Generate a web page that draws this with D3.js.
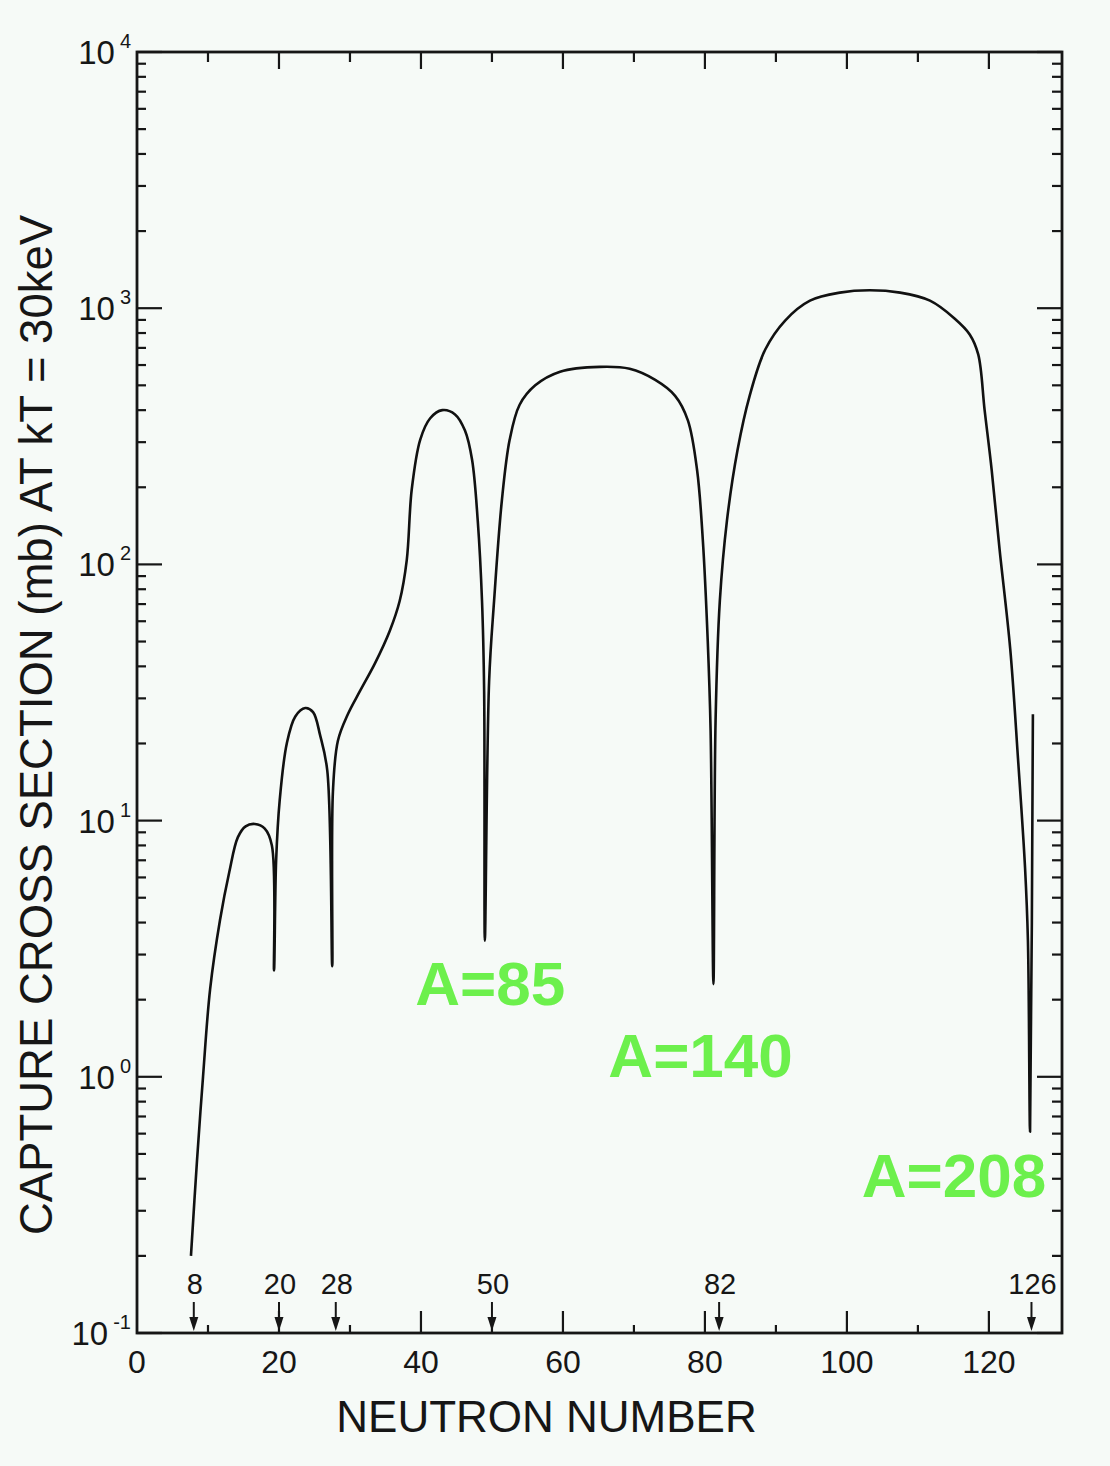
<!DOCTYPE html>
<html>
<head>
<meta charset="utf-8">
<script src="https://cdn.jsdelivr.net/npm/d3@7"></script>
<style>
  html, body { margin: 0; padding: 0; background: #f6faf7; }
  svg { display: block; }
  text { font-family: "Liberation Sans", Arial, Helvetica, sans-serif; fill: #161616; }
</style>
</head>
<body>
<svg id="chart" width="1110" height="1466"></svg>
<script>
// ---- Data ----
const neutronNumber = [
  7.6, 8.45, 9.3, 10.3, 11.7, 13.0, 14.2, 15.3, 16.6, 18.0, 19.0, 19.3,
  19.6, 20.1, 21.1, 22.3, 23.7, 24.8, 25.8, 26.8, 27.5,
  27.6, 28.3, 29.7, 31.4, 33.5, 35.6, 37.0, 38.0, 38.7, 39.9, 41.3, 43.0, 44.8, 46.2, 47.2, 48.0, 48.6, 48.9, 49.0,
  49.6, 50.3, 51.4, 52.5, 53.9, 56.1, 59.6, 65.2, 69.4, 73.0, 75.8, 77.6, 78.9, 79.7, 80.4, 80.8, 81.2,
  81.5, 82.1, 83.1, 84.6, 86.3, 88.5, 91.3, 94.8, 99.0, 103.2, 107.5, 111.7, 115.2, 117.3, 118.5, 119.4, 120.4, 121.5, 123.0, 124.1, 125.1, 125.5, 125.8,
  126.2
];
const captureCrossSection = [
  0.20, 0.47, 1.0, 2.2, 4.1, 6.3, 8.6, 9.5, 9.7, 9.3, 8.0, 2.6,
  7.0, 12, 20, 25.5, 27.5, 26.5, 21.5, 15.7, 2.7,
  13, 20.5, 26, 32, 41, 55, 72, 104, 196, 307, 372, 400, 385, 333, 256, 148, 72, 32, 3.4,
  35, 72, 178, 307, 420, 500, 565, 590, 580, 525, 455, 365, 233, 125, 50, 22.5, 2.3,
  24.5, 72, 148, 280, 455, 690, 895, 1070, 1150, 1175, 1150, 1070, 910, 790, 660, 400, 233, 115, 47, 17.5, 6.5, 3.4, 0.61,
  26
];
const magicNumbers = [8, 20, 28, 50, 82, 126];
const xTickValues = [0, 20, 40, 60, 80, 100, 120];
const yDecades = [-1, 0, 1, 2, 3, 4];
const annotationText = ["A=85", "A=140", "A=208"];
const annotationN = [39.2, 66.4, 102.1];
const annotationSigma = [1.9, 1.0, 0.34];
const xTitle = "NEUTRON NUMBER";
const yTitle = "CAPTURE CROSS SECTION (mb) AT kT = 30keV";

// ---- Layout ----
const W = 1110, H = 1466;
const margin = { left: 137, top: 52, right: 48, bottom: 133 };
const x0 = margin.left, x1 = W - margin.right, y0 = margin.top, y1 = H - margin.bottom;

const svg = d3.select("#chart");
svg.append("rect").attr("width", W).attr("height", H).attr("fill", "#f6faf7");

const x = d3.scaleLinear().domain([0, 130.3]).range([x0, x1]);
const y = d3.scaleLog().domain([0.1, 10000]).range([y1, y0]);

const ink = "#161616";

const yMinor = [];
yDecades.slice(0, -1).forEach(d => { for (let m = 2; m <= 9; m++) yMinor.push(m * Math.pow(10, d)); });
const yMajor = yDecades.map(d => Math.pow(10, d));

const axG = svg.append("g").attr("stroke", ink).attr("stroke-width", 2.2);
yMinor.forEach(v => {
  axG.append("line").attr("x1", x0).attr("x2", x0 + 9).attr("y1", y(v)).attr("y2", y(v));
  axG.append("line").attr("x1", x1).attr("x2", x1 - 10).attr("y1", y(v)).attr("y2", y(v));
});
yMajor.forEach(v => {
  axG.append("line").attr("x1", x0).attr("x2", x0 + 25).attr("y1", y(v)).attr("y2", y(v));
  axG.append("line").attr("x1", x1).attr("x2", x1 - 25).attr("y1", y(v)).attr("y2", y(v));
});

d3.range(10, 130, 10).forEach(v => {
  const major = v % 20 === 0;
  axG.append("line").attr("x1", x(v)).attr("x2", x(v)).attr("y1", y1).attr("y2", y1 - (major ? 22 : 8));
  axG.append("line").attr("x1", x(v)).attr("x2", x(v)).attr("y1", y0).attr("y2", y0 + (major ? 17 : 10));
});

svg.append("rect").attr("x", x0).attr("y", y0).attr("width", x1 - x0).attr("height", y1 - y0)
  .attr("fill", "none").attr("stroke", ink).attr("stroke-width", 2.8);

svg.append("g").selectAll("text").data(xTickValues).join("text")
  .attr("x", d => x(d)).attr("y", y1 + 40)
  .attr("text-anchor", "middle").attr("font-size", 32)
  .text(d => d);

const yl = svg.append("g").selectAll("text").data(yDecades).join("text")
  .attr("x", x0 - 6).attr("y", d => y(Math.pow(10, d)) + 12)
  .attr("text-anchor", "end").attr("font-size", 33);
yl.append("tspan").text("10");
yl.append("tspan").attr("dx", 5).attr("dy", -16).attr("font-size", 20).text(d => d);

const mg = svg.append("g");
magicNumbers.forEach(n => {
  const cx = x(n);
  mg.append("line").attr("x1", cx).attr("x2", cx).attr("y1", y1 - 31).attr("y2", y1 - 10)
    .attr("stroke", ink).attr("stroke-width", 2);
  mg.append("path").attr("d", `M${cx - 4.5},${y1 - 16} L${cx + 4.5},${y1 - 16} L${cx},${y1 - 2} Z`)
    .attr("fill", ink);
  mg.append("text").attr("x", cx + 1).attr("y", y1 - 39).attr("text-anchor", "middle")
    .attr("font-size", 29).text(n);
});

const pts = neutronNumber.map((n, i) => [n, captureCrossSection[i]]);
const line = d3.line().x(d => x(d[0])).y(d => y(d[1])).curve(d3.curveCatmullRom.alpha(0.5));
svg.append("path").datum(pts).attr("d", line)
  .attr("fill", "none").attr("stroke", "#111").attr("stroke-width", 2.6).attr("stroke-linejoin", "round");

svg.append("g").selectAll("text").data(annotationText).join("text")
  .attr("x", (d, i) => x(annotationN[i])).attr("y", (d, i) => y(annotationSigma[i]))
  .attr("font-size", 62).attr("font-weight", "bold")
  .style("fill", "#6cf04c")
  .text(d => d);

svg.append("text").attr("x", (x0 + x1) / 2 - 53).attr("y", 1432)
  .attr("text-anchor", "middle").attr("font-size", 44).text(xTitle);
svg.append("text").attr("transform", `translate(52, ${(215 + 1235) / 2}) rotate(-90)`)
  .attr("text-anchor", "middle").attr("font-size", 45.5).text(yTitle);
</script>
</body>
</html>
